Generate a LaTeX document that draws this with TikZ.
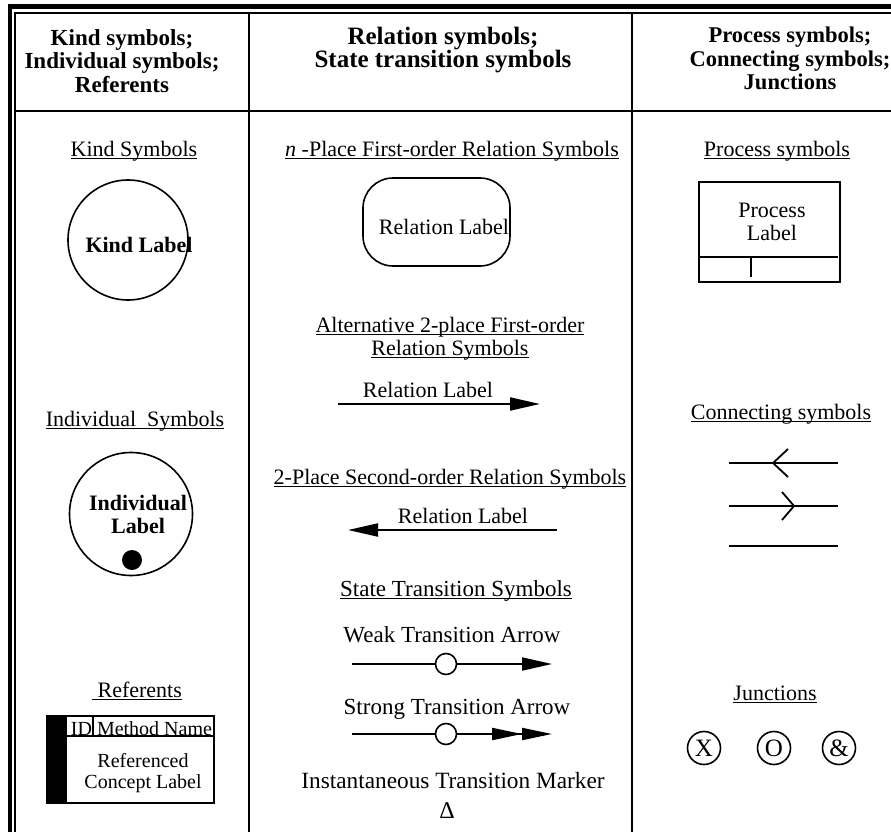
\documentclass[tikz,border=0pt]{standalone}
\usepackage{fontspec}
\setmainfont{Liberation Serif}
\usetikzlibrary{arrows.meta}

% Underline a piece of text just below its baseline.
\newcommand{\underscored}[1]{\setbox0=\hbox{#1}\rlap{\rule[-3pt]{\wd0}{1.5pt}}\box0}

\begin{document}
\begin{tikzpicture}[x = 1pt, y = -1pt, > = Latex,
        headtext/.style = {font = \fontsize{23}{23.5}\selectfont\bfseries, align = center, inner sep = 0pt},
        subtitle/.style = {font = \fontsize{22}{23}\selectfont, align = center, inner sep = 0pt, anchor = base},
        labeltext/.style = {font = \fontsize{22}{23}\selectfont, align = center, inner sep = 0pt},
        statetext/.style = {font = \fontsize{23}{23}\selectfont, inner sep = 0pt, anchor = base},
        boldlabel/.style = {font = \fontsize{22}{23}\selectfont\bfseries, align = center, inner sep = 0pt},
        smalltext/.style = {font = \fontsize{20}{21}\selectfont, align = center, inner sep = 0pt},
        gridline/.style = {line width = 2.4pt},
        outline/.style = {draw, line width = 1.6pt},
        relarrow/.style = {line width = 2pt, -{Triangle[length = 30pt, width = 13pt]}},
        junction/.style = {draw, circle, line width = 1.6pt, minimum size = 33pt, inner sep = 0pt, font = \fontsize{25}{25}\selectfont}]

        % Fix the page to the size of the table.
        \useasboundingbox (0, 0) rectangle (891, 832);

        % Double border along the top and the left.
        \draw[line width = 5pt] (8, 6.5) to (891, 6.5);
        \draw[line width = 2.2pt] (14, 13.2) to (891, 13.2);
        \draw[line width = 4pt] (10, 4) to (10, 832);
        \draw[line width = 2pt] (15, 12) to (15, 832);

        % Column dividers and the line under the headings.
        \draw[gridline] (249, 13) to (249, 832);
        \draw[gridline] (632, 13) to (632, 832);
        \draw[gridline] (15, 111) to (891, 111);

        % Column headings.
        \node[headtext] (kindhead) at (122, 61) {Kind symbols;\\Individual symbols;\\Referents};
        \node[headtext, font = \fontsize{25}{23.5}\selectfont\bfseries] (relhead) at (443, 50) {Relation symbols;\\State transition symbols};
        \node[headtext, font = \fontsize{22.5}{23.5}\selectfont\bfseries] (prochead) at (790, 58.5) {Process symbols;\\Connecting symbols;\\Junctions};

        % Kind symbols.
        \node[subtitle] (kindtitle) at (134, 156) {\underscored{Kind Symbols}};
        \node[outline, circle, minimum size = 120pt, inner sep = 0pt] (kind) at (128, 240) {};
        \node[boldlabel, anchor = base] (kindlabel) at (139, 252) {Kind Label};

        % Individual symbols.
        \node[subtitle] (indtitle) at (135, 426) {\underscored{Individual\ \ Symbols}};
        \node[outline, circle, minimum size = 123pt, inner sep = 0pt] (individual) at (131, 514) {};
        \node[boldlabel] (indlabel) at (138, 514.5) {Individual\\Label};
        \node[circle, fill = black, minimum size = 20pt, inner sep = 0pt] (inddot) at (132, 560) {};

        % Referents.
        \node[subtitle] (reftitle) at (137, 697) {\underscored{\ Referents}};
        \node[draw, line width = 2pt, minimum width = 167pt, minimum height = 87pt, inner sep = 0pt] (referent) at (130.5, 759.5) {};
        \fill (referent.north west) rectangle ([xshift = 21pt] referent.south west);
        \draw[line width = 1.4pt] ([xshift = 21pt, yshift = -21pt] referent.north west) to ([yshift = -21pt] referent.north east);
        \draw[line width = 1.4pt] ([xshift = 47pt] referent.north west) to ([xshift = 47pt, yshift = -21pt] referent.north west);
        \node[smalltext, anchor = base] (refid) at (81.5, 735) {ID};
        \node[smalltext, anchor = base] (refmethod) at (154.5, 735) {Method Name};
        \node[smalltext] (refconcept) at (143, 772.8) {Referenced\\Concept Label};

        % n-place first-order relation.
        \node[subtitle] (nreltitle) at (452, 156) {\underscored{\textit{n} -Place First-order Relation Symbols}};
        \node[outline, rounded corners = 30pt, minimum width = 147pt, minimum height = 88pt] (relbox) at (436.5, 222) {};
        \node[labeltext, anchor = base] (rellabel) at (444, 234) {Relation Label};

        % Alternative 2-place relation.
        \node[labeltext] (alttitle) at (450, 338.4) {\underscored{Alternative 2-place First-order}\\\underscored{Relation Symbols}};
        \coordinate (alttail) at (338, 404);
        \coordinate (althead) at (540, 404);
        \draw[relarrow] (alttail) to (althead);
        \node[labeltext, anchor = base] (altlabel) at (428, 397) {Relation Label};

        % 2-place second-order relation.
        \node[subtitle] (sectitle) at (450, 484) {\underscored{2-Place Second-order Relation Symbols}};
        \coordinate (sectail) at (557, 530);
        \coordinate (sechead) at (348, 530);
        \draw[relarrow] (sectail) to (sechead);
        \node[labeltext, anchor = base] (seclabel) at (463, 523) {Relation Label};

        % State transitions.
        \node[statetext] (statetitle) at (456, 596) {\underscored{State Transition Symbols}};

        \node[statetext] (weaktext) at (452, 642) {Weak Transition Arrow};
        \coordinate (weaktail) at (352, 664);
        \coordinate (weakhead) at (552, 664);
        \node[outline, circle, fill = white, minimum size = 21pt, inner sep = 0pt] (weakring) at (446, 664) {};
        \draw[line width = 2pt] (weaktail) to (weakring);
        \draw[relarrow] (weakring) to (weakhead);

        \node[statetext] (strongtext) at (457, 714) {Strong Transition Arrow};
        \coordinate (strongtail) at (352, 734);
        \coordinate (stronghead) at (552, 734);
        \node[outline, circle, fill = white, minimum size = 21pt, inner sep = 0pt] (strongring) at (446, 734) {};
        \draw[line width = 2pt] (strongtail) to (strongring);
        \draw[line width = 2pt, -{Triangle[length = 30pt, width = 12pt] Triangle[length = 30pt, width = 12pt]}] (strongring) to (stronghead);

        \node[statetext, font = \fontsize{23.3}{23}\selectfont] (instanttext) at (453, 788) {Instantaneous Transition Marker};
        \node[statetext, font = \fontsize{24}{24}\selectfont] (instantmark) at (447, 818) {Δ};

        % Process symbol.
        \node[subtitle] (proctitle) at (777, 156) {\underscored{Process symbols}};
        \node[draw, line width = 2pt, minimum width = 141pt, minimum height = 100pt, inner sep = 0pt] (process) at (769.5, 232) {};
        \draw[line width = 2pt] ([yshift = 26pt] process.south west) to ([xshift = -3pt, yshift = 26pt] process.south east);
        \draw[line width = 2pt] ([xshift = 53pt, yshift = 26pt] process.south west) to ([xshift = 53pt, yshift = 6pt] process.south west);
        \node[labeltext] (proclabel) at (772, 222) {Process\\Label};

        % Connecting symbols.
        \node[subtitle] (conntitle) at (781, 419) {\underscored{Connecting symbols}};
        \coordinate (backw) at (729, 463);
        \coordinate (backe) at (838, 463);
        \coordinate (forew) at (729, 506);
        \coordinate (foree) at (838, 506);
        \coordinate (barew) at (729, 546);
        \coordinate (baree) at (838, 546);
        \draw[line width = 2.2pt] (backw) to (backe);
        \draw[line width = 1.8pt] (788, 449) to (773, 463) to (788, 477);
        \draw[line width = 2.2pt] (forew) to (foree);
        \draw[line width = 1.8pt] (782, 492) to (794, 506) to (782, 520);
        \draw[line width = 2.2pt] (barew) to (baree);

        % Junctions.
        \node[subtitle] (junctitle) at (775, 700) {\underscored{Junctions}};
        \node[junction] (xorjunction) at (704, 748) {X};
        \node[junction] (orjunction) at (774, 748) {O};
        \node[junction] (andjunction) at (839, 748) {\&};
    \end{tikzpicture}
\end{document}
